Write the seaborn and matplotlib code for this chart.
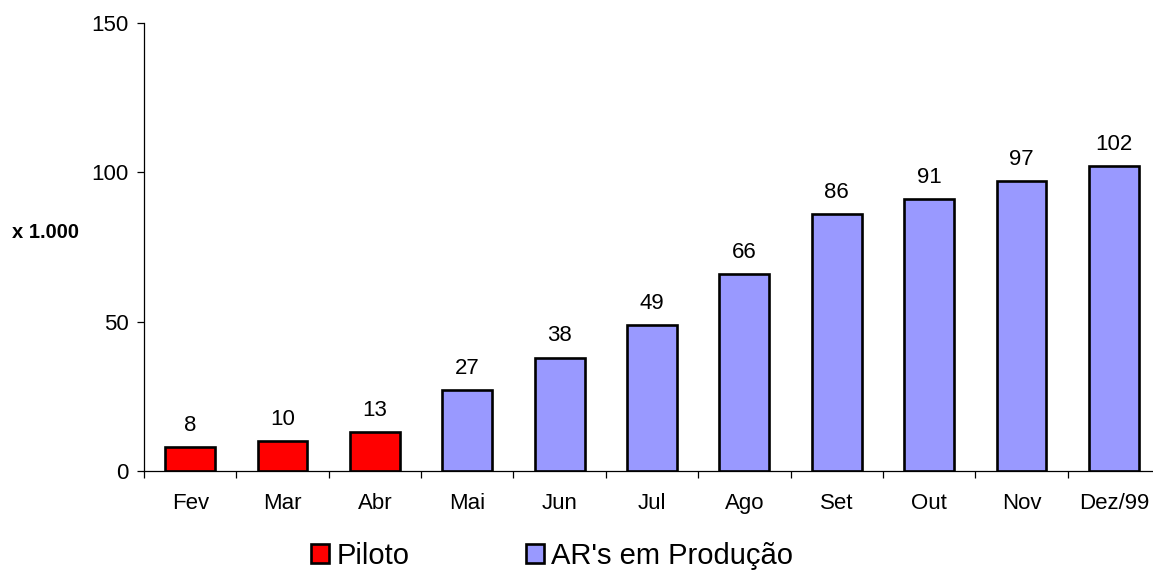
import numpy as np
import pandas as pd
import matplotlib
matplotlib.use("Agg")
import matplotlib.pyplot as plt
import seaborn as sns

meses = ["Fev", "Mar", "Abr", "Mai", "Jun", "Jul", "Ago", "Set", "Out", "Nov", "Dez/99"]
valores = [8, 10, 13, 27, 38, 49, 66, 86, 91, 97, 102]
series = ["Piloto", "Piloto", "Piloto",
          "AR's em Produção", "AR's em Produção", "AR's em Produção", "AR's em Produção",
          "AR's em Produção", "AR's em Produção", "AR's em Produção", "AR's em Produção"]
cores = {"Piloto": "#FF0000", "AR's em Produção": "#9999FF"}

df = pd.DataFrame({"mes": meses, "valor": valores, "serie": series})

sns.set_theme(style="white")
plt.rcParams["font.family"] = ["Liberation Sans", "DejaVu Sans"]
plt.rcParams["text.color"] = "black"

fig = plt.figure(figsize=(11.53, 5.71), dpi=100)
ax = fig.add_axes([0.1249, 0.1751, 0.8812, 0.7846])

sns.barplot(data=df, x="mes", y="valor", hue="serie", order=meses,
            hue_order=["Piloto", "AR's em Produção"], palette=cores,
            dodge=False, width=0.54, edgecolor="black", linewidth=1.9,
            saturation=1, ax=ax)

for cont in ax.containers:
    labels = [f"{v:.0f}" if v > 0 else "" for v in cont.datavalues]
    ax.bar_label(cont, labels=labels, padding=8, fontsize=16, color="black")

ax.set_ylim(0, 150)
ax.set_xlim(-0.5, len(meses) - 0.5)
ax.set_yticks([0, 50, 100, 150])
ax.set_xlabel("")
ax.set_ylabel("x 1.000", rotation=0, fontsize=14.5, fontweight="bold", color="black")
ax.yaxis.set_label_coords(-0.0974, 0.511)

for s in ["top", "right"]:
    ax.spines[s].set_visible(False)
for s in ["left", "bottom"]:
    ax.spines[s].set_color("black")
    ax.spines[s].set_linewidth(0.9)

ax.set_xticks(np.arange(-0.5, len(meses), 1.0), minor=True)
ax.tick_params(axis="x", which="major", length=0, pad=15.5, labelsize=16, colors="black")
ax.tick_params(axis="x", which="minor", length=5, width=0.9, direction="out", color="black", bottom=True)
ax.tick_params(axis="y", which="major", length=5, width=0.9, direction="out", pad=6,
               labelsize=16, colors="black", left=True)

leg = ax.legend(loc="center", bbox_to_anchor=(552 / 1153, 15 / 571),
                bbox_transform=fig.transFigure, ncol=2, frameon=False,
                fontsize=21, handlelength=0.62, handleheight=0.62, handletextpad=0.24,
                columnspacing=4.0)
for t in leg.get_texts():
    t.set_color("black")
for h in leg.legend_handles:
    h.set_edgecolor("black")
    h.set_linewidth(1.9)

fig.savefig("out.png", dpi=100)
